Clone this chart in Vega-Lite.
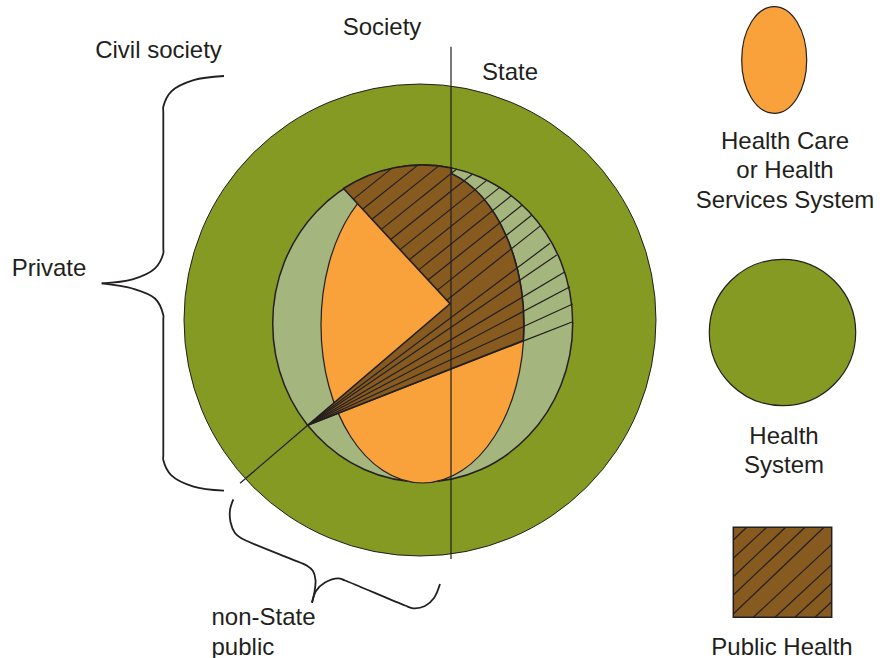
{
  "$schema": "https://vega.github.io/schema/vega-lite/v6.json",
  "width": 880,
  "height": 658,
  "autosize": "none",
  "padding": 0,
  "background": "#ffffff",
  "config": {"view": {"stroke": null}},
  "encoding": {
    "x": {"field": "x", "type": "quantitative", "scale": {"domain": [0, 880], "nice": false, "zero": false}, "axis": null},
    "y": {"field": "y", "type": "quantitative", "scale": {"domain": [0, 658], "reverse": true, "nice": false, "zero": false}, "axis": null}
  },
  "layer": [
    {
      "data": {"values": [{"element": "Health System", "x": 420, "y": 320}]},
      "mark": {"type": "point", "shape": "circle", "size": 222784, "filled": true, "fill": "#849a22", "stroke": "#231f20", "strokeWidth": 1, "opacity": 1}
    },
    {
      "data": {"values": [{"element": "Society ring", "x": 422.7, "y": 323.5}]},
      "mark": {"type": "point", "shape": "M -150 0 A 150 158.5 0 1 1 150 0 A 150 158.5 0 1 1 -150 0 Z", "size": 4, "filled": true, "fill": "#a5b57e", "stroke": "#231f20", "strokeWidth": 1.5, "opacity": 1}
    },
    {
      "data": {"values": [{"element": "Health Care or Health Services System", "x": 422.5, "y": 325}]},
      "mark": {"type": "point", "shape": "M -101.5 0 A 101.5 158 0 1 1 101.5 0 A 101.5 158 0 1 1 -101.5 0 Z", "size": 4, "filled": true, "fill": "#f9a13b", "stroke": "#231f20", "strokeWidth": 1.2, "opacity": 1}
    },
    {
      "data": {"values": [{"element": "Public Health", "x": 422.7, "y": 323.5}]},
      "mark": {"type": "point", "shape": "M -79.2 -135 A 150 158.5 0 0 1 28.8 -155.5 L 28.8 -149.9 A 101.5 158 0 0 1 100.6 17 L -115 101.8 L 27.3 -19.7 Z", "size": 4, "filled": true, "fill": "#875a1f", "stroke": "#231f20", "strokeWidth": 1.6, "opacity": 1}
    },
    {
      "data": {"values": [
        {"x": 353.3, "y": 199.1, "x2": 392.0, "y2": 168.1},
        {"x": 362.6, "y": 209.2, "x2": 417.8, "y2": 165.1},
        {"x": 372.0, "y": 219.3, "x2": 438.7, "y2": 165.9},
        {"x": 381.3, "y": 229.4, "x2": 456.7, "y2": 169.0},
        {"x": 390.7, "y": 239.5, "x2": 472.5, "y2": 174.0},
        {"x": 400.0, "y": 249.6, "x2": 487.0, "y2": 180.1},
        {"x": 409.3, "y": 259.7, "x2": 500.3, "y2": 186.9},
        {"x": 418.7, "y": 269.9, "x2": 511.3, "y2": 195.7},
        {"x": 428.0, "y": 280.0, "x2": 522.2, "y2": 205.0},
        {"x": 437.4, "y": 290.1, "x2": 531.6, "y2": 215.2},
        {"x": 446.7, "y": 300.2, "x2": 541.0, "y2": 225.4},
        {"x": 307.7, "y": 425.3, "x2": 550.0, "y2": 243.3},
        {"x": 307.7, "y": 425.3, "x2": 556.7, "y2": 255.0},
        {"x": 307.7, "y": 425.3, "x2": 565.0, "y2": 271.7},
        {"x": 307.7, "y": 425.3, "x2": 570.0, "y2": 286.7},
        {"x": 307.7, "y": 425.3, "x2": 572.7, "y2": 304.0},
        {"x": 307.7, "y": 425.3, "x2": 572.7, "y2": 321.7}
      ]},
      "mark": {"type": "rule", "stroke": "#231f20", "strokeWidth": 1.2},
      "encoding": {"x2": {"field": "x2"}, "y2": {"field": "y2"}}
    },
    {
      "data": {"values": [
        {"line": "Society | State", "x": 451, "y": 46.7, "x2": 451, "y2": 559},
        {"line": "non-State public", "x": 307.7, "y": 425.3, "x2": 240, "y2": 483.3}
      ]},
      "mark": {"type": "rule", "stroke": "#231f20", "strokeWidth": 1.2},
      "encoding": {"x2": {"field": "x2"}, "y2": {"field": "y2"}}
    },
    {
      "data": {"values": [
        {"part": "private-top", "i": 0, "x": 224, "y": 76},
        {"part": "private-top", "i": 1, "x": 193.6, "y": 80.1},
        {"part": "private-top", "i": 2, "x": 171.4, "y": 91.3},
        {"part": "private-top", "i": 3, "x": 163.3, "y": 106.7},
        {"part": "private-top", "i": 4, "x": 163.3, "y": 112},
        {"part": "private-top", "i": 5, "x": 163.3, "y": 248},
        {"part": "private-top", "i": 6, "x": 163.3, "y": 253.3},
        {"part": "private-top", "i": 7, "x": 155, "y": 268.3},
        {"part": "private-top", "i": 8, "x": 132.5, "y": 279.3},
        {"part": "private-top", "i": 9, "x": 101.7, "y": 283.3},
        {"part": "private-bottom", "i": 0, "x": 101.7, "y": 283.3},
        {"part": "private-bottom", "i": 1, "x": 132.5, "y": 288.5},
        {"part": "private-bottom", "i": 2, "x": 155, "y": 298.5},
        {"part": "private-bottom", "i": 3, "x": 163.3, "y": 315},
        {"part": "private-bottom", "i": 4, "x": 163.3, "y": 320},
        {"part": "private-bottom", "i": 5, "x": 163.3, "y": 455},
        {"part": "private-bottom", "i": 6, "x": 163.3, "y": 460},
        {"part": "private-bottom", "i": 7, "x": 171.4, "y": 475.4},
        {"part": "private-bottom", "i": 8, "x": 193.6, "y": 486.6},
        {"part": "private-bottom", "i": 9, "x": 224, "y": 490.7},
        {"part": "public-left", "i": 0, "x": 233.3, "y": 499.3},
        {"part": "public-left", "i": 1, "x": 230, "y": 510},
        {"part": "public-left", "i": 2, "x": 230.5, "y": 522},
        {"part": "public-left", "i": 3, "x": 235, "y": 533},
        {"part": "public-left", "i": 4, "x": 241, "y": 538},
        {"part": "public-left", "i": 5, "x": 300, "y": 562.5},
        {"part": "public-left", "i": 6, "x": 306.7, "y": 565.5},
        {"part": "public-left", "i": 7, "x": 313, "y": 571},
        {"part": "public-left", "i": 8, "x": 315.5, "y": 580},
        {"part": "public-left", "i": 9, "x": 314.5, "y": 592},
        {"part": "public-left", "i": 10, "x": 312, "y": 602.7},
        {"part": "public-right", "i": 0, "x": 312, "y": 602.7},
        {"part": "public-right", "i": 1, "x": 316, "y": 591},
        {"part": "public-right", "i": 2, "x": 325, "y": 582.5},
        {"part": "public-right", "i": 3, "x": 338.3, "y": 578.3},
        {"part": "public-right", "i": 4, "x": 345, "y": 580.5},
        {"part": "public-right", "i": 5, "x": 405, "y": 605.5},
        {"part": "public-right", "i": 6, "x": 413.3, "y": 608.3},
        {"part": "public-right", "i": 7, "x": 425, "y": 606},
        {"part": "public-right", "i": 8, "x": 434, "y": 598},
        {"part": "public-right", "i": 9, "x": 440, "y": 584}
      ]},
      "mark": {"type": "line", "interpolate": "catmull-rom", "stroke": "#231f20", "strokeWidth": 1.8},
      "encoding": {"detail": {"field": "part"}, "order": {"field": "i", "type": "quantitative"}}
    },
    {
      "data": {"values": [{"element": "legend Health Care", "x": 774.2, "y": 60}]},
      "mark": {"type": "point", "shape": "M -32.5 0 A 32.5 53.3 0 1 1 32.5 0 A 32.5 53.3 0 1 1 -32.5 0 Z", "size": 4, "filled": true, "fill": "#f9a13b", "stroke": "#231f20", "strokeWidth": 1.2, "opacity": 1}
    },
    {
      "data": {"values": [{"element": "legend Health System", "x": 782.5, "y": 332.5}]},
      "mark": {"type": "point", "shape": "circle", "size": 21433, "filled": true, "fill": "#849a22", "stroke": "#231f20", "strokeWidth": 1.2, "opacity": 1}
    },
    {
      "data": {"values": [{"element": "legend Public Health", "x": 733.3, "y": 527.3, "x2": 831.7, "y2": 617.3}]},
      "mark": {"type": "rect", "fill": "#875a1f", "stroke": "#231f20", "strokeWidth": 1.5},
      "encoding": {"x2": {"field": "x2"}, "y2": {"field": "y2"}}
    },
    {
      "data": {"values": [
        {"x": 733.3, "y": 540, "x2": 746.7, "y2": 527.3},
        {"x": 733.3, "y": 558.3, "x2": 766.7, "y2": 527.3},
        {"x": 733.3, "y": 576.7, "x2": 785.7, "y2": 527.3},
        {"x": 733.3, "y": 595, "x2": 805, "y2": 527.3},
        {"x": 733.3, "y": 614, "x2": 824, "y2": 527.3},
        {"x": 753.3, "y": 617.3, "x2": 831.7, "y2": 544.4},
        {"x": 775, "y": 617.3, "x2": 831.7, "y2": 564.6},
        {"x": 795, "y": 617.3, "x2": 831.7, "y2": 583.2},
        {"x": 815, "y": 617.3, "x2": 831.7, "y2": 601.8}
      ]},
      "mark": {"type": "rule", "stroke": "#231f20", "strokeWidth": 1.2},
      "encoding": {"x2": {"field": "x2"}, "y2": {"field": "y2"}}
    },
    {
      "data": {"values": [
        {"text": "Society", "x": 382, "y": 35},
        {"text": "Civil society", "x": 158.5, "y": 58},
        {"text": "State", "x": 510, "y": 80},
        {"text": "Private", "x": 49, "y": 276},
        {"text": "Health Care", "x": 785, "y": 148.5},
        {"text": "or Health", "x": 785, "y": 178},
        {"text": "Services System", "x": 785, "y": 207.5},
        {"text": "Health", "x": 784, "y": 443.5},
        {"text": "System", "x": 784, "y": 473},
        {"text": "Public Health", "x": 782, "y": 654.5}
      ]},
      "mark": {"type": "text", "align": "center", "baseline": "alphabetic", "font": "Liberation Sans", "fontSize": 24, "color": "#231f20"},
      "encoding": {"text": {"field": "text"}}
    },
    {
      "data": {"values": [
        {"text": "non-State", "x": 211.5, "y": 625},
        {"text": "public", "x": 211.5, "y": 655}
      ]},
      "mark": {"type": "text", "align": "left", "baseline": "alphabetic", "font": "Liberation Sans", "fontSize": 24, "color": "#231f20"},
      "encoding": {"text": {"field": "text"}}
    }
  ]
}
